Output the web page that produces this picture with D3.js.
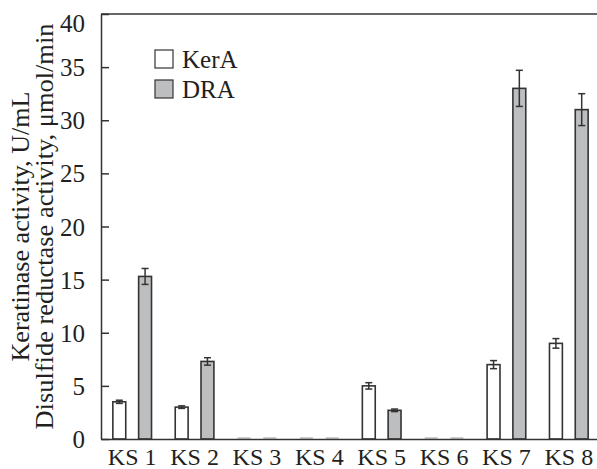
<!DOCTYPE html>
<html><head><meta charset="utf-8">
<script src="https://cdn.jsdelivr.net/npm/d3@7/dist/d3.min.js"></script>
<style>body{margin:0;background:#fff}svg{display:block}text{font-family:"Liberation Serif","Times New Roman",serif;fill:#231f20}</style>
</head><body><svg id="c" width="597" height="469"></svg>
<script>
const categories = ["KS 1","KS 2","KS 3","KS 4","KS 5","KS 6","KS 7","KS 8"];
const series = ["KerA","DRA"];
const kerA = [3.5, 3.0, 0, 0, 5.0, 0, 7.0, 9.0];
const kerAErr = [0.15, 0.12, 0, 0, 0.3, 0, 0.38, 0.45];
const dra = [15.3, 7.3, 0, 0, 2.7, 0, 33.0, 31.0];
const draErr = [0.75, 0.35, 0, 0, 0.12, 0, 1.7, 1.5];
const yTicks = [0,5,10,15,20,25,30,35,40];
const yTitle1 = "Keratinase activity, U/mL";
const yTitle2 = "Disulfide reductase activity, μmol/min";

const svg = d3.select("#c");
const L = 101, R = 600, T = 14, B = 439;
const x = d3.scaleBand().domain(categories).range([L, R]).padding(0);
const x1 = d3.scaleBand().domain(series).range([x.bandwidth()*0.19, x.bandwidth()*0.81]).paddingInner(0.5).paddingOuter(0);
const y = d3.scaleLinear().domain([0,40]).range([B, T]);
const fills = {KerA:"#ffffff", DRA:"#bdbec0"};
const ink = "#333";

const rows = categories.map((c,i)=>({c, vals:[{s:"KerA",v:kerA[i],e:kerAErr[i]},{s:"DRA",v:dra[i],e:draErr[i]}]}));

const g = svg.append("g");
const grp = g.selectAll("g.grp").data(rows).join("g").attr("transform", d=>`translate(${x(d.c)},0)`);
grp.selectAll("rect").data(d=>d.vals).join("rect")
  .attr("x", d=>x1(d.s)).attr("width", x1.bandwidth())
  .attr("y", d=>y(d.v)).attr("height", d=>y(0)-y(d.v))
  .attr("fill", d=>fills[d.s]).attr("stroke", ink).attr("stroke-width", 1.6);
grp.selectAll("line.zero").data(d=>d.vals.filter(v=>v.v===0)).join("line")
  .attr("x1", d=>x1(d.s)).attr("x2", d=>x1(d.s)+x1.bandwidth())
  .attr("y1", y(0)-1).attr("y2", y(0)-1).attr("stroke","#999").attr("stroke-width",1);
const eb = grp.selectAll("g.eb").data(d=>d.vals.filter(v=>v.e>0)).join("g");
const cx = d=>x1(d.s)+x1.bandwidth()/2;
eb.append("line").attr("x1",cx).attr("x2",cx).attr("y1",d=>y(d.v+d.e)).attr("y2",d=>y(d.v-d.e)).attr("stroke",ink).attr("stroke-width",1.5);
eb.append("line").attr("x1",d=>cx(d)-3.5).attr("x2",d=>cx(d)+3.5).attr("y1",d=>y(d.v+d.e)).attr("y2",d=>y(d.v+d.e)).attr("stroke",ink).attr("stroke-width",1.5);
eb.append("line").attr("x1",d=>cx(d)-3.5).attr("x2",d=>cx(d)+3.5).attr("y1",d=>y(d.v-d.e)).attr("y2",d=>y(d.v-d.e)).attr("stroke",ink).attr("stroke-width",1.5);

const ya = svg.append("g").attr("transform",`translate(${L},0)`)
  .call(d3.axisLeft(y).tickValues(yTicks).tickSizeInner(-8).tickSizeOuter(0).tickPadding(16));
ya.select(".domain").attr("stroke",ink).attr("stroke-width",1.5);
ya.selectAll(".tick line").attr("stroke",ink).attr("stroke-width",1.5);
ya.selectAll(".tick text").attr("font-size",25).attr("dy","0.34em");
ya.selectAll(".tick text").filter(d=>d===40).attr("dy","0.7em");
svg.append("line").attr("x1",L).attr("x2",597).attr("y1",T).attr("y2",T).attr("stroke",ink).attr("stroke-width",1.5);
const xa = svg.append("g").attr("transform",`translate(0,${B})`)
  .call(d3.axisBottom(x).tickSize(0).tickPadding(0));
xa.select(".domain").attr("stroke",ink).attr("stroke-width",1.5);
xa.selectAll(".tick text").attr("font-size",24).attr("dy",null).attr("y",26);

svg.append("text").attr("transform",`translate(29,${(T+B)/2}) rotate(-90)`).attr("text-anchor","middle").attr("font-size",25)
  .attr("textLength",270).attr("lengthAdjust","spacingAndGlyphs").text(yTitle1);
svg.append("text").attr("transform",`translate(53,${(T+B)/2}) rotate(-90)`).attr("text-anchor","middle").attr("font-size",25)
  .attr("textLength",406).attr("lengthAdjust","spacingAndGlyphs").text(yTitle2);

const lg = svg.append("g").attr("transform","translate(155,50)");
series.forEach((s,i)=>{
  lg.append("rect").attr("x",0).attr("y",i*30).attr("width",18).attr("height",18).attr("fill",fills[s]).attr("stroke",ink).attr("stroke-width",1.2);
  lg.append("text").attr("x",27).attr("y",i*30+18).attr("font-size",25).text(s);
});
</script></body></html>
